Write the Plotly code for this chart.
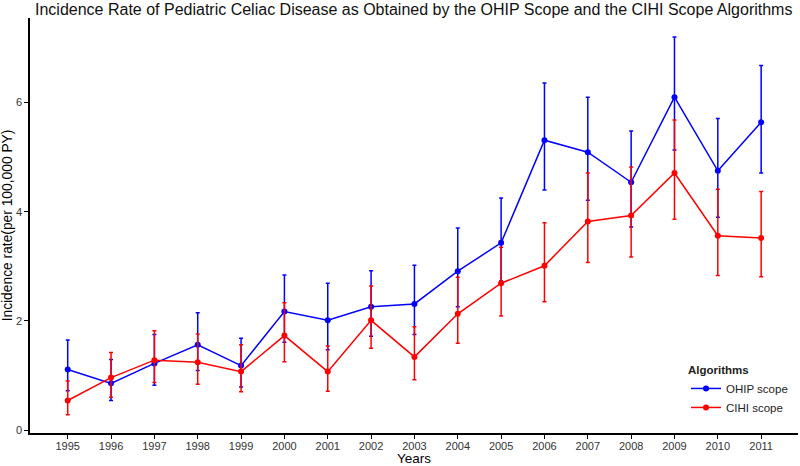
import plotly.graph_objects as go

years = list(range(1995, 2012))
tick_labels = [str(y) for y in years]

ohip_rate = [1.11, 0.855, 1.22, 1.56, 1.18, 2.17, 2.01, 2.26, 2.31, 2.91, 3.43, 5.31, 5.09, 4.54, 6.10, 4.75, 5.64]
ohip_upper = [1.65, 1.29, 1.75, 2.15, 1.68, 2.84, 2.69, 2.92, 3.02, 3.70, 4.25, 6.36, 6.10, 5.48, 7.20, 5.71, 6.68]
ohip_lower = [0.72, 0.54, 0.82, 1.09, 0.79, 1.61, 1.47, 1.72, 1.75, 2.26, 2.73, 4.40, 4.21, 3.72, 5.13, 3.90, 4.71]

cihi_rate = [0.54, 0.96, 1.28, 1.24, 1.07, 1.73, 1.07, 2.01, 1.34, 2.13, 2.69, 3.01, 3.82, 3.93, 4.71, 3.56, 3.52]
cihi_upper = [0.90, 1.42, 1.82, 1.76, 1.56, 2.33, 1.54, 2.64, 1.89, 2.80, 3.35, 3.80, 4.71, 4.82, 5.68, 4.41, 4.37]
cihi_lower = [0.28, 0.60, 0.87, 0.84, 0.70, 1.25, 0.71, 1.50, 0.92, 1.59, 2.09, 2.35, 3.07, 3.17, 3.86, 2.83, 2.81]

series = [
    ("OHIP scope", ohip_rate, ohip_upper, ohip_lower, "#0000ff"),
    ("CIHI scope", cihi_rate, cihi_upper, cihi_lower, "#ff0000"),
]

FONT = "Liberation Sans, Arial, sans-serif"

fig = go.Figure()
for name, rate, up, lo, color in series:
    fig.add_trace(go.Scatter(
        x=years, y=rate, name=name, mode="lines+markers",
        line=dict(color=color, width=1.5),
        marker=dict(color=color, size=6),
        error_y=dict(type="data", symmetric=False,
                     array=[u - r for u, r in zip(up, rate)],
                     arrayminus=[r - l for r, l in zip(rate, lo)],
                     color=color, thickness=1.5, width=2),
    ))

fig.update_layout(
    width=800, height=466,
    margin=dict(l=30, r=2, t=18, b=33),
    paper_bgcolor="white", plot_bgcolor="white",
    font=dict(family=FONT, color="black"),
    title=dict(text="Incidence Rate of Pediatric Celiac Disease as Obtained by the OHIP Scope and the CIHI Scope Algorithms",
               x=35 / 800, xanchor="left", y=1 - 9.5 / 466, yanchor="middle",
               font=dict(size=16, color="#111111")),
    showlegend=True,
    legend=dict(title=dict(text="<b>Algorithms</b>", font=dict(size=11.5)),
                font=dict(size=11.5, color="#222222"),
                x=(686 - 30) / 768, xanchor="left",
                y=(433 - 359) / 415, yanchor="top",
                bgcolor="rgba(0,0,0,0)", itemwidth=30, tracegroupgap=0),
)

fig.update_xaxes(
    range=[1994.13, 2011.85], tickmode="array", tickvals=years, ticktext=tick_labels,
    showline=True, linecolor="black", linewidth=1.5, ticks="outside", ticklen=4,
    tickcolor="black", tickwidth=1, showgrid=False, zeroline=False, automargin=False,
    tickfont=dict(size=11, color="#333333"), ticklabelstandoff=-2,
    title=dict(text="Years", font=dict(size=13.5), standoff=1),
)
fig.update_yaxes(
    range=[-0.055, 7.55], tickvals=[0, 2, 4, 6],
    showline=True, linecolor="black", linewidth=1.5, ticks="outside", ticklen=4,
    tickcolor="black", tickwidth=1, showgrid=False, zeroline=False, automargin=False,
    tickfont=dict(size=11, color="#333333"),
    title=dict(text="Incidence rate(per 100,000 PY)", font=dict(size=13.8), standoff=2),
)

fig.write_html("out.html", config={"displayModeBar": False},
               post_script="document.body.style.margin='0';")
